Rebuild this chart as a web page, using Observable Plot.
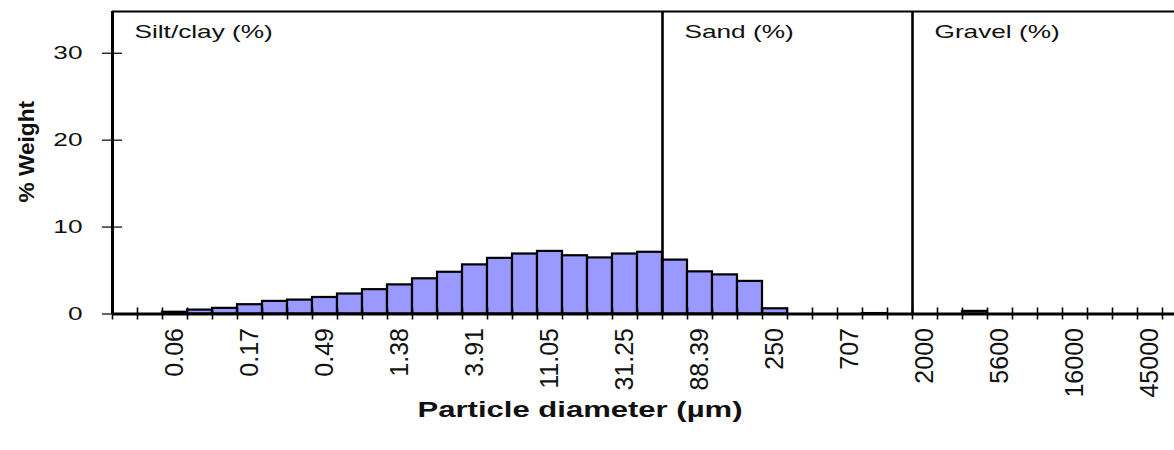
<!DOCTYPE html>
<html><head><meta charset="utf-8">
<script src="https://cdn.jsdelivr.net/npm/d3@7"></script>
<script src="https://cdn.jsdelivr.net/npm/@observablehq/plot@0.6"></script>
<style>body{margin:0;background:#fff}</style>
</head><body><div id="chart"></div>
<script>
// Half-phi size classes (lower bound, µm)
const categories = ["0.03","0.04","0.06","0.09","0.12","0.17","0.24","0.35","0.49","0.69","0.98","1.38","1.95","2.76","3.91","5.52","7.81","11.05","15.63","22.10","31.25","44.19","62.50","88.39","125","176.78","250","353.55","500","707","1000","1414","2000","2828","4000","5600","8000","11300","16000","22600","32000","45000","64000"];
// % weight of each class
const weights = [0,0,0.2,0.45,0.65,1.07,1.45,1.6,1.9,2.3,2.8,3.35,4.05,4.8,5.65,6.4,6.9,7.2,6.7,6.45,6.9,7.1,6.2,4.85,4.5,3.75,0.6,0,0,0,0.05,0,0,0,0.3,0,0,0,0,0,0,0,0];
const tickLabels = ["0.06","0.17","0.49","1.38","3.91","11.05","31.25","88.39","250","707","2000","5600","16000","45000"];
const yTicks = [0, 10, 20, 30];
const yMax = 34.8;
const sectionNames = ["Silt/clay (%)", "Sand (%)", "Gravel (%)"];
const sectionStarts = ["0.03", "62.50", "2000"];
const xTitle = "Particle diameter (µm)";
const yTitle = "% Weight";

const idx = c => categories.indexOf(c);
const bars = categories.map((c, i) => ({i, c, w: weights[i]})).filter(d => d.w > 0);
const bounds = d3.range(categories.length + 1);
const ink = "#111";

const plot = Plot.plot({
  width: 1174, height: 450,
  marginLeft: 112, marginRight: 0, marginTop: 11, marginBottom: 136.5,
  x: {domain: [0, categories.length], range: [112, 1187], axis: null},
  y: {domain: [0, yMax], axis: null},
  style: {fontFamily: "'Liberation Sans', Arial, sans-serif", background: "#fff", overflow: "visible", color: ink},
  marks: [
    Plot.rectY(bars, {x1: d => d.i, x2: d => d.i + 1, y: "w", fill: "#9999ff", stroke: "#000", strokeWidth: 2.2}),
    // x tick marks crossing the axis
    Plot.ruleX(bounds, {x: d => d, y1: 0, y2: 0, insetTop: 6, insetBottom: 6, stroke: "#000", strokeWidth: 1.6}),
    // y tick marks crossing the axis
    Plot.ruleY(yTicks, {y: d => d, x1: 0, x2: 0, insetLeft: 10, insetRight: 10, stroke: "#000", strokeWidth: 1.2}),
    Plot.ruleY([0], {stroke: "#000", strokeWidth: 3}),
    Plot.ruleX([0], {stroke: "#000", strokeWidth: 3}),
    Plot.ruleY([yMax], {stroke: "#000", strokeWidth: 2}),
    Plot.ruleX(sectionStarts.slice(1), {x: c => idx(c), stroke: "#000", strokeWidth: 2.6}),
    Plot.text(sectionNames, {x: (d, i) => idx(sectionStarts[i]), y: yMax, dy: 20, dx: 22, textAnchor: "start", lineAnchor: "middle", fontSize: 19, fill: ink}),
    Plot.text(yTicks, {x: 0, y: d => d, text: d => String(d), textAnchor: "end", lineAnchor: "middle", dx: -30, fontSize: 19, fill: ink}),
    Plot.text(tickLabels, {x: c => idx(c) + 0.5, y: 0, text: d => d, rotate: -90, textAnchor: "end", lineAnchor: "middle", dy: 14, fontSize: 25, fill: ink}),
    Plot.text([yTitle], {x: 0, y: yMax / 2, rotate: -90, dx: -86, dy: -11, textAnchor: "middle", lineAnchor: "middle", fontSize: 22.7, fontWeight: "bold", fill: ink}),
    Plot.text([xTitle], {x: categories.length / 2, y: 0, dx: -70, dy: 95.5, textAnchor: "middle", lineAnchor: "middle", fontSize: 22.5, fontWeight: "bold", fill: ink})
  ]
});

// horizontal texts in the reference are stretched horizontally: scale glyphs about each text's anchor
const SX = 1.38;
d3.select(plot).selectAll("text").each(function() {
  const t = this.getAttribute("transform") || "";
  if (t.includes("rotate")) return;
  this.setAttribute("transform", `${t} scale(${SX},1)`);
});

document.getElementById("chart").append(plot);
</script>
</body></html>
